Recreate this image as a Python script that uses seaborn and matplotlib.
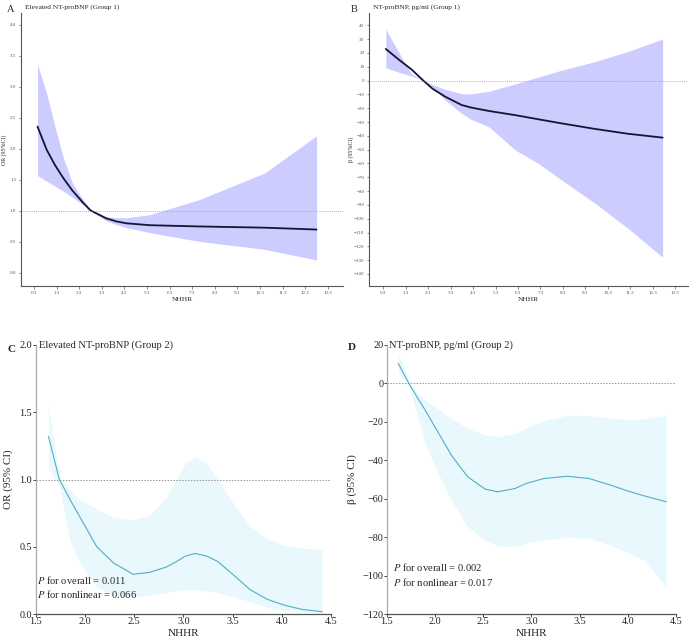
import matplotlib
matplotlib.use('Agg')
import matplotlib.pyplot as plt
import seaborn as sns
import pandas as pd
import numpy as np

sns.set_style('ticks')
plt.rcParams['font.family'] = ['Liberation Serif', 'DejaVu Serif']
plt.rcParams['mathtext.fontset'] = 'stix'

# Panel A: Elevated NT-proBNP (Group 1), OR
a_x = [0.46, 0.86, 1.23, 1.6, 2.0, 2.48, 2.8, 3.07, 3.5, 3.96, 4.4, 5.43, 7.6, 10.5, 12.8]
a_est = [2.36, 1.99, 1.74, 1.53, 1.33, 1.13, 1.01, 0.96, 0.88, 0.83, 0.80, 0.77, 0.75, 0.73, 0.70]
a_up = [3.36, 2.90, 2.36, 1.86, 1.45, 1.18, 1.02, 0.96, 0.91, 0.89, 0.89, 0.94, 1.18, 1.61, 2.21]
a_lo = [1.57, 1.48, 1.40, 1.32, 1.22, 1.10, 1.00, 0.94, 0.84, 0.78, 0.73, 0.65, 0.51, 0.38, 0.21]

# Panel B: NT-proBNP, pg/ml (Group 1), beta
b_x = [0.41, 1.0, 1.56, 2.08, 2.5, 3.05, 3.79, 4.2, 5.0, 6.17, 7.2, 8.25, 9.73, 11.2, 12.75]
b_est = [22.9, 15.0, 8.0, 0.0, -6.0, -11.6, -17.7, -19.5, -22.0, -25.0, -28.0, -31.0, -35.0, -38.5, -41.3]
b_up = [37.1, 20.0, 4.8, 0.0, -3.0, -6.3, -9.5, -9.7, -7.8, -2.5, 2.5, 7.5, 13.7, 21.0, 30.1]
b_lo = [9.3, 6.0, 3.3, 0.0, -5.0, -14.0, -23.7, -28.0, -33.4, -50.2, -59.9, -72.0, -88.8, -106.9, -127.9]

# Panel C: Elevated NT-proBNP (Group 2), OR
c_x = [1.63, 1.74, 1.85, 1.95, 2.12, 2.29, 2.49, 2.66, 2.83, 2.93, 3.02, 3.12, 3.24, 3.35,
       3.51, 3.68, 3.85, 4.02, 4.2, 4.41]
c_est = [1.32, 1.00, 0.85, 0.72, 0.50, 0.38, 0.295, 0.31, 0.35, 0.39, 0.43, 0.45, 0.43, 0.39,
         0.29, 0.18, 0.11, 0.067, 0.035, 0.017]
c_up = [1.55, 1.03, 0.92, 0.85, 0.78, 0.72, 0.70, 0.735, 0.87, 1.0, 1.12, 1.17, 1.12, 1.0,
        0.82, 0.65, 0.56, 0.51, 0.49, 0.48]
c_lo = [1.08, 0.95, 0.54, 0.38, 0.20, 0.14, 0.13, 0.14, 0.16, 0.17, 0.18, 0.18, 0.17, 0.16,
        0.13, 0.09, 0.05, 0.03, 0.015, 0.005]

# Panel D: NT-proBNP, pg/ml (Group 2), beta
d_x = [1.62, 1.73, 1.82, 1.9, 2.0, 2.17, 2.34, 2.52, 2.65, 2.83, 2.95, 3.13, 3.37, 3.6,
       3.82, 4.0, 4.17, 4.4]
d_est = [10.4, 0.0, -7.5, -14.0, -22.6, -37.3, -48.6, -55.0, -56.4, -54.7, -52.0, -49.5,
         -48.3, -49.5, -52.9, -56.0, -58.5, -61.6]
d_up = [16.0, 1.5, -5.2, -8.5, -12.2, -18.2, -23.4, -26.9, -27.8, -26.0, -23.0, -19.5,
        -16.5, -16.8, -18.0, -18.8, -18.5, -16.5]
d_lo = [6.0, -1.5, -17.0, -31.0, -43.4, -60.7, -74.6, -81.6, -84.5, -85.0, -83.0, -81.6,
        -80.0, -80.5, -84.2, -88.0, -92.0, -105.9]

g1_ticks = [0.3 + i for i in range(14)]

fig = plt.figure(figsize=(6.91, 6.39), dpi=100)
W, H = 691, 639

def add_ax(l, t, r, b):
    return fig.add_axes([l / W, 1 - b / H, (r - l) / W, (b - t) / H])

axA = add_ax(21, 13, 343, 286)
axB = add_ax(369, 13, 688, 286)
axC = add_ax(35.7, 345, 331, 614)
axD = add_ax(386.7, 345, 676, 614)

# ---- group 1 panels
def style_g1(ax):
    sns.despine(ax=ax)
    ax.spines['left'].set_color('#555555')
    ax.spines['bottom'].set_color('#555555')
    ax.spines['left'].set_linewidth(0.8)
    ax.spines['bottom'].set_linewidth(0.8)
    ax.tick_params(labelsize=3.6, colors='#555555', length=1.8, width=0.5, pad=1.5)
    ax.set_xticks(g1_ticks)
    ax.set_xticklabels([f'{t:.1f}' for t in g1_ticks])

for ax, x, est, lo, up, ref in [(axA, a_x, a_est, a_lo, a_up, 1.0), (axB, b_x, b_est, b_lo, b_up, 0.0)]:
    df = pd.DataFrame({'x': x, 'est': est})
    ax.fill_between(x, lo, up, color='#ccccff', lw=0)
    sns.lineplot(data=df, x='x', y='est', ax=ax, color='#141433', lw=1.3)
    ax.axhline(ref, color='#999999', lw=0.6, ls=(0, (1, 1.5)))
    style_g1(ax)

axA.set_xlim(-0.27, 13.97)
axA.set_ylim(-0.21, 4.19)
axA.set_yticks(np.arange(0, 4.01, 0.5))
axA.set_yticklabels([f'{v:.1f}' for v in np.arange(0, 4.01, 0.5)])
axB.set_xlim(-0.34, 13.88)
axB.set_ylim(-148.7, 48.9)
axB.set_yticks(np.arange(-140, 41, 10))

for ax, yl in [(axA, 'OR (95%CI)'), (axB, 'β (95%CI)')]:
    ax.set_xlabel('NHHR', fontsize=5.4, color='#222222')
    ax.set_ylabel(yl, fontsize=4.2, color='#222222')
    ax.xaxis.set_label_coords(0.5, -0.042)
axA.yaxis.set_label_coords(-0.043, 0.5)
axB.yaxis.set_label_coords(-0.047, 0.5)

axA.text(0.012, 1.022, 'Elevated NT-proBNP (Group 1)', transform=axA.transAxes,
         fontsize=5.3, va='center', ha='left')
axB.text(0.012, 1.022, 'NT-proBNP, pg/ml (Group 1)', transform=axB.transAxes,
         fontsize=5.3, va='center', ha='left')
fig.text(7 / W, 1 - 10 / H, 'A', fontsize=7.5, va='center', ha='left')
fig.text(351 / W, 1 - 10 / H, 'B', fontsize=7.5, va='center', ha='left')

# ---- group 2 panels
for ax, x, est, lo, up, ref in [(axC, c_x, c_est, c_lo, c_up, 1.0), (axD, d_x, d_est, d_lo, d_up, 0.0)]:
    df = pd.DataFrame({'x': x, 'est': est})
    ax.fill_between(x, lo, up, color='#e8f8fd', lw=0)
    sns.lineplot(data=df, x='x', y='est', ax=ax, color='#52aec4', lw=0.8)
    ax.axhline(ref, color='#999999', lw=0.7, ls=(0, (1.5, 1.5)))
    sns.despine(ax=ax)
    ax.spines['left'].set_color('#aaaaaa')
    ax.spines['bottom'].set_color('#555555')
    ax.spines['left'].set_linewidth(0.9)
    ax.spines['bottom'].set_linewidth(0.9)
    ax.tick_params(labelsize=7.3, colors='#222222', length=2, width=0.6, pad=0.5)
    ax.set_xlim(1.5, 4.5)
    ax.set_xticks([1.5, 2.0, 2.5, 3.0, 3.5, 4.0, 4.5])
    ax.set_xlabel('NHHR', fontsize=8, color='#222222')
    ax.xaxis.set_label_coords(0.5, -0.054)

axC.set_ylim(0, 2.0)
axC.set_yticks([0.0, 0.5, 1.0, 1.5, 2.0])
axD.set_ylim(-120, 20)
axD.set_yticks(np.arange(-120, 21, 20))
axC.set_ylabel('OR (95% CI)', fontsize=8)
axD.set_ylabel('β (95% CI)', fontsize=8)
axC.yaxis.set_label_coords(-0.077, 0.5)
axD.yaxis.set_label_coords(-0.103, 0.5)

axC.text(0.011, 1.0, 'Elevated NT-proBNP (Group 2)', transform=axC.transAxes,
         fontsize=7.6, va='center', ha='left')
axD.text(0.009, 1.0, 'NT-proBNP, pg/ml (Group 2)', transform=axD.transAxes,
         fontsize=7.6, va='center', ha='left')
fig.text(7 / W, 1 - 350 / H, 'C', fontsize=8, fontweight='bold', va='center', ha='left')
fig.text(348 / W, 1 - 348 / H, 'D', fontsize=8, fontweight='bold', va='center', ha='left')

for xp, y1, y2, s1, s2 in [(37, 580, 594, '0.011', '0.066'), (393, 567, 582, '0.002', '0.017')]:
    fig.text(xp / W, 1 - y1 / H, r'$\it{P}$ for overall = ' + s1, fontsize=7.6, va='center', ha='left')
    fig.text(xp / W, 1 - y2 / H, r'$\it{P}$ for nonlinear = ' + s2, fontsize=7.6, va='center', ha='left')

fig.savefig('out.png', dpi=100)
